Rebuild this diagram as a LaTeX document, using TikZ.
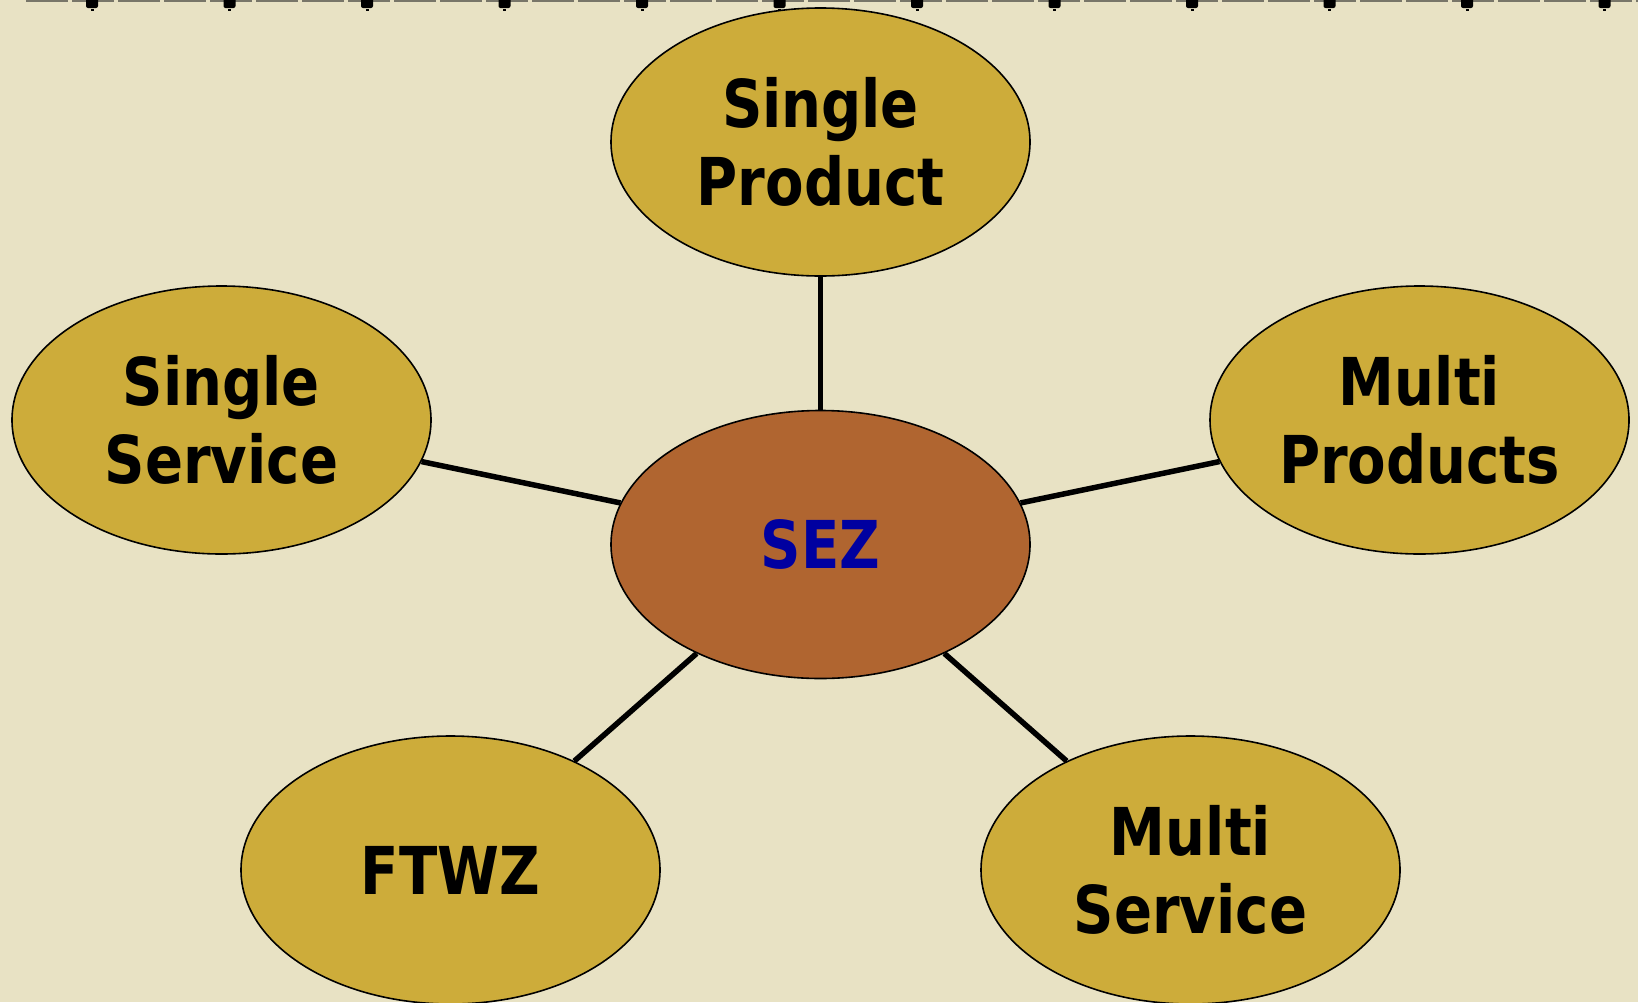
\documentclass[tikz,border=0pt]{standalone}
\usepackage{fontspec}
\usetikzlibrary{shapes.geometric}
\newfontfamily\nodefont[FakeStretch=0.85]{DejaVu Sans}
\definecolor{bgbeige}{RGB}{232,226,196}
\definecolor{goldfill}{RGB}{205,172,58}
\definecolor{sezfill}{RGB}{176,101,48}
\definecolor{sezblue}{RGB}{0,0,160}
\definecolor{stripgray}{RGB}{120,118,105}
\tikzset{
  bubble/.style={ellipse, draw=black, line width=1.6pt, fill=goldfill,
    minimum width=419pt, minimum height=268pt, inner sep=0pt,
    align=center, font=\nodefont\bfseries\fontsize{66}{78}\selectfont},
  hub/.style={bubble, fill=sezfill, text=sezblue},
  conn/.style={draw=black, line width=5.5pt},
  marker/.style={fill=black, rounded corners=2pt},
}
\begin{document}
\begin{tikzpicture}[x=1pt,y=-1pt]
\clip (0,0) rectangle (1638,1002);
\fill[bgbeige] (0,0) rectangle (1638,1002);
% top strip
\draw[stripgray, line width=2.6pt, dash pattern=on 42pt off 4pt] (26,1) -- (1638,1);
\foreach \k in {0,...,11}{
  \fill[marker] ({86+137.5*\k},-3) rectangle ({98+137.5*\k},8);
  \fill[black] ({90.5+137.5*\k},9) rectangle ({93.5+137.5*\k},11);
}
% nodes
\node[hub] (sez) at (820.5,544.5) {SEZ};
\node[bubble] (sprod) at (820.5,142) {Single\\Product};
\node[bubble] (sserv) at (221.5,420) {Single\\Service};
\node[bubble] (mprod) at (1419.5,420) {Multi\\Products};
\node[bubble] (ftwz) at (450.5,870) {FTWZ};
\node[bubble] (mserv) at (1190.5,870) {Multi\\Service};
% connectors
\draw[conn] (sez) -- (sprod);
\draw[conn] (sez) -- (sserv);
\draw[conn] (sez) -- (mprod);
\draw[conn] (sez) -- (ftwz);
\draw[conn] (sez) -- (mserv);
\end{tikzpicture}
\end{document}
